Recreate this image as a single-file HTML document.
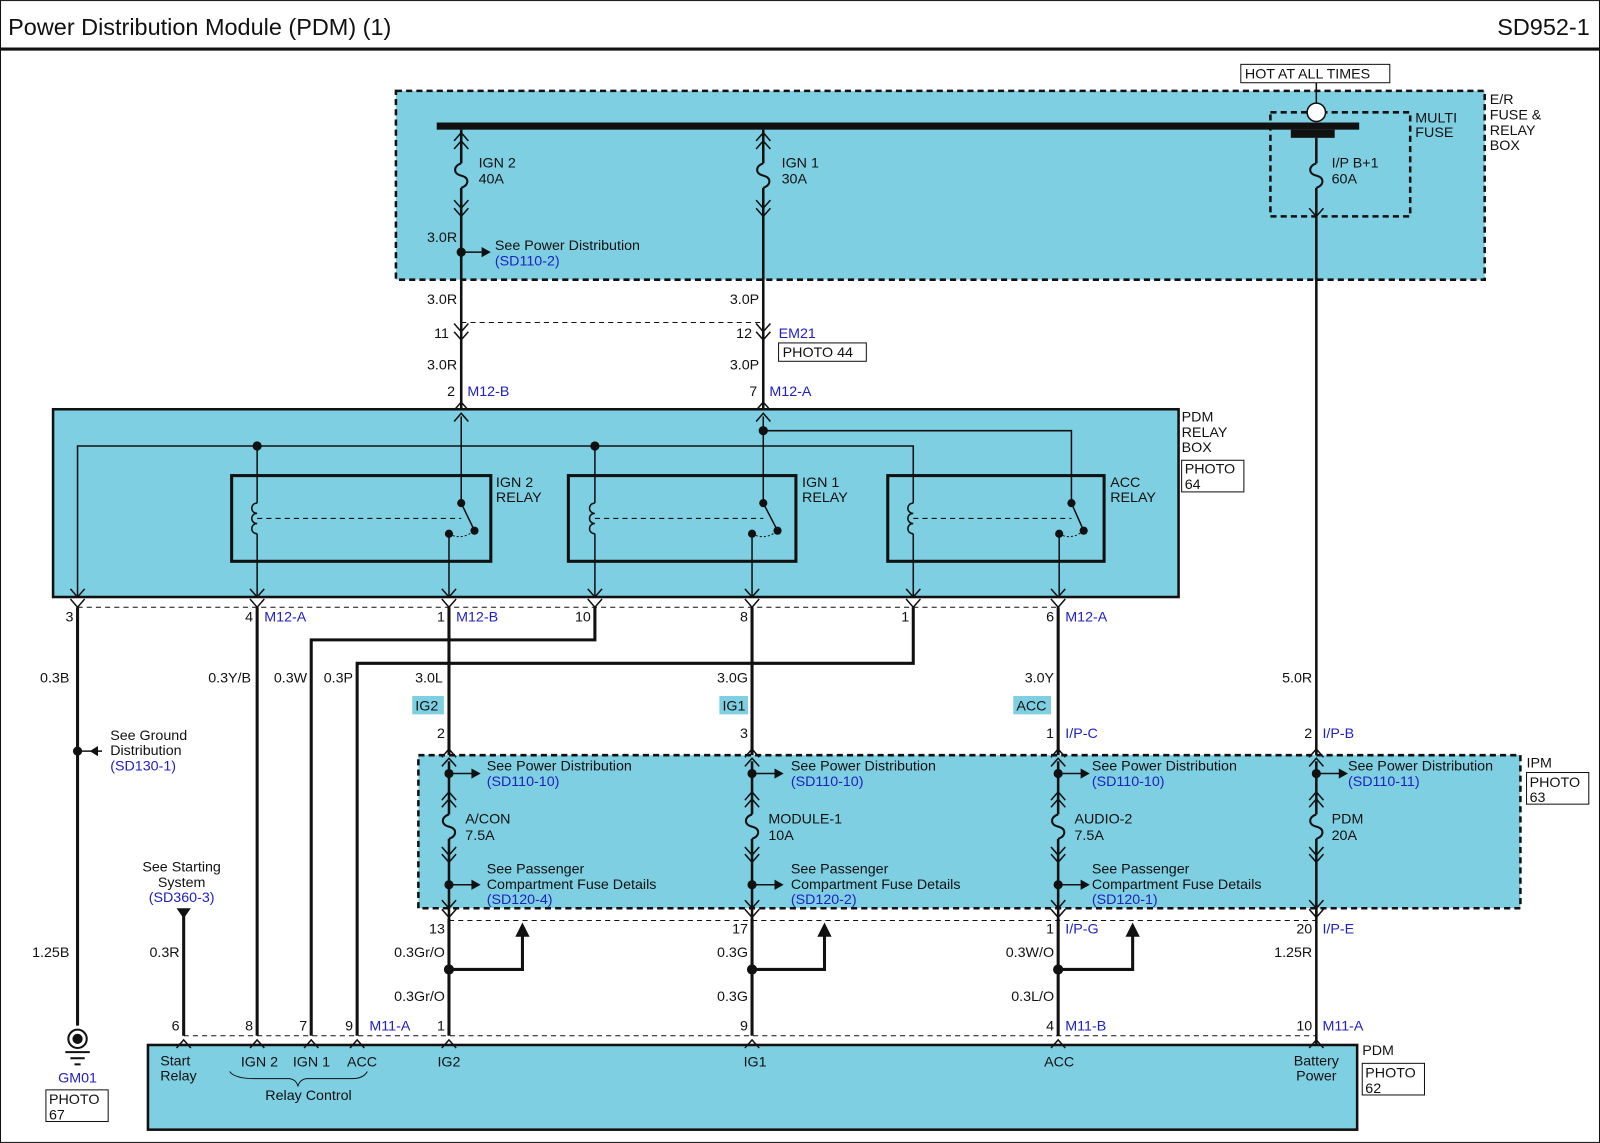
<!DOCTYPE html>
<html><head><meta charset="utf-8"><style>
html,body{margin:0;padding:0;background:#fff}
svg{display:block}
text{font-family:"Liberation Sans",Arial,sans-serif;font-size:14px;fill:#111}
.b{fill:#2020c0}
.t{font-size:23px}
</style></head><body>
<svg width="1600" height="1143" viewBox="0 0 1568 1120" xmlns="http://www.w3.org/2000/svg">
<defs>
<path id="v" d="M-7,-5 L0,3 L7,-5" fill="none" stroke="#111" stroke-width="1.5"/>
<path id="u" d="M-7,5 L0,-3 L7,5" fill="none" stroke="#111" stroke-width="1.5"/>
<path id="fuse" d="M0,0 C-8,3 -8,10 0,12 C8,14 8,21 0,24" fill="none" stroke="#111" stroke-width="2"/>
<path id="coil" d="M0,0 c-7,0 -7,10 0,10 c-7,0 -7,10 0,10 c-7,0 -7,10 0,10" fill="none" stroke="#111" stroke-width="1.5"/>
</defs>
<rect x="0.5" y="0.5" width="1567" height="1119" fill="#fff" stroke="#111"/>
<text x="8" y="34" class="t">Power Distribution Module (PDM) (1)</text>
<text x="1558" y="34" class="t" text-anchor="end">SD952-1</text>
<line x1="0" y1="48" x2="1568" y2="48" stroke="#111" stroke-width="3"/>

<!-- top blue box -->
<rect x="388" y="89" width="1067" height="185" fill="#7ecfe2" stroke="#111" stroke-width="2.5" stroke-dasharray="6,4"/>
<rect x="1245" y="110" width="137" height="102" fill="none" stroke="#111" stroke-width="2.5" stroke-dasharray="6,4"/>
<rect x="428" y="120" width="904" height="7" fill="#111"/>
<rect x="1265" y="127" width="43" height="8" fill="#111"/>
<line x1="1290" y1="81" x2="1290" y2="101" stroke="#111" stroke-width="1.5"/>
<circle cx="1290" cy="110" r="9" fill="#fff" stroke="#111" stroke-width="1.5"/>
<rect x="1216" y="63" width="146" height="18" fill="#fff" stroke="#111"/>
<text x="1220" y="77">HOT AT ALL TIMES</text>
<text x="1460" y="102">E/R</text><text x="1460" y="117">FUSE &amp;</text><text x="1460" y="132">RELAY</text><text x="1460" y="147">BOX</text>
<text x="1387" y="120">MULTI</text><text x="1387" y="134">FUSE</text>

<g stroke="#111" stroke-width="2.5" fill="none">
<line x1="452" y1="127" x2="452" y2="160"/><line x1="452" y1="184" x2="452" y2="400"/>
<line x1="748" y1="127" x2="748" y2="160"/><line x1="748" y1="184" x2="748" y2="400"/>
<line x1="1290" y1="135" x2="1290" y2="160"/><line x1="1290" y1="184" x2="1290" y2="1024"/>
</g>
<use href="#fuse" x="452" y="160"/><use href="#fuse" x="748" y="160"/><use href="#fuse" x="1290" y="160"/>
<use href="#u" x="452" y="133"/><use href="#u" x="452" y="141"/><use href="#v" x="452" y="201"/><use href="#v" x="452" y="209"/>
<use href="#u" x="748" y="133"/><use href="#u" x="748" y="141"/><use href="#v" x="748" y="201"/><use href="#v" x="748" y="209"/>
<use href="#v" x="1290" y="209"/>
<text x="469" y="164">IGN 2</text><text x="469" y="180">40A</text>
<text x="766" y="164">IGN 1</text><text x="766" y="180">30A</text>
<text x="1305" y="164">I/P B+1</text><text x="1305" y="180">60A</text>
<circle cx="452" cy="247" r="4.5" fill="#111"/>
<line x1="452" y1="247" x2="474" y2="247" stroke="#111" stroke-width="1.5"/><path d="M472,242 L481,247 L472,252Z" fill="#111"/>
<text x="485" y="245">See Power Distribution</text><text x="485" y="260" class="b">(SD110-2)</text>
<text x="448" y="237" text-anchor="end">3.0R</text>

<text x="448" y="298" text-anchor="end">3.0R</text><text x="744" y="298" text-anchor="end">3.0P</text>
<line x1="452" y1="316" x2="748" y2="316" stroke="#111" stroke-dasharray="5,4"/>
<use href="#v" x="452" y="322"/><use href="#v" x="452" y="330"/><use href="#v" x="748" y="322"/><use href="#v" x="748" y="330"/>
<text x="440" y="331" text-anchor="end">11</text><text x="737" y="331" text-anchor="end">12</text>
<text x="763" y="331" class="b">EM21</text>
<rect x="763" y="336" width="86" height="18" fill="#fff" stroke="#111"/><text x="767" y="350">PHOTO 44</text>
<text x="448" y="362" text-anchor="end">3.0R</text><text x="744" y="362" text-anchor="end">3.0P</text>
<text x="446" y="388" text-anchor="end">2</text><text x="458" y="388" class="b">M12-B</text>
<text x="742" y="388" text-anchor="end">7</text><text x="754" y="388" class="b">M12-A</text>

<!-- PDM relay box -->
<rect x="52" y="401" width="1103" height="184" fill="#7ecfe2" stroke="#111" stroke-width="2.5"/>
<use href="#u" x="452" y="397"/><use href="#u" x="452" y="408"/><use href="#u" x="748" y="397"/><use href="#u" x="748" y="408"/>
<text x="1158" y="413">PDM</text><text x="1158" y="428">RELAY</text><text x="1158" y="443">BOX</text>
<rect x="1158" y="451" width="61" height="31" fill="#fff" stroke="#111"/><text x="1161" y="464">PHOTO</text><text x="1161" y="479">64</text>
<g stroke="#111" stroke-width="1.5" fill="none">
<polyline points="76,585 76,437 895,437 895,585"/>
<line x1="252" y1="437" x2="252" y2="585"/><line x1="583" y1="437" x2="583" y2="585"/>
<polyline points="748,422 1050,422 1050,493"/>
<line x1="452" y1="408" x2="452" y2="493"/><line x1="748" y1="408" x2="748" y2="493"/>
<line x1="440" y1="523" x2="440" y2="585"/><line x1="737" y1="523" x2="737" y2="585"/><line x1="1038" y1="523" x2="1038" y2="585"/>
</g>
<g fill="#111"><circle cx="252" cy="437" r="4.5"/><circle cx="583" cy="437" r="4.5"/><circle cx="748" cy="422" r="4.5"/></g>
<g stroke="#111" stroke-width="3" fill="#7ecfe2">
<rect x="227" y="466" width="254" height="84"/><rect x="557" y="466" width="223" height="84"/><rect x="870" y="466" width="212" height="84"/>
</g>
<g stroke="#111" stroke-width="1.5">
<line x1="252" y1="466" x2="252" y2="493"/><line x1="252" y1="523" x2="252" y2="550"/>
<line x1="583" y1="466" x2="583" y2="493"/><line x1="583" y1="523" x2="583" y2="550"/>
<line x1="895" y1="466" x2="895" y2="493"/><line x1="895" y1="523" x2="895" y2="550"/>
<line x1="452" y1="466" x2="452" y2="493"/><line x1="748" y1="466" x2="748" y2="493"/><line x1="1050" y1="466" x2="1050" y2="493"/>
<line x1="440" y1="523" x2="440" y2="550"/><line x1="737" y1="523" x2="737" y2="550"/><line x1="1038" y1="523" x2="1038" y2="550"/>
</g>
<text x="486" y="477">IGN 2</text><text x="486" y="492">RELAY</text>
<text x="786" y="477">IGN 1</text><text x="786" y="492">RELAY</text>
<text x="1088" y="477">ACC</text><text x="1088" y="492">RELAY</text>
<!-- relay internals -->
<use href="#coil" x="252" y="493"/><use href="#coil" x="583" y="493"/><use href="#coil" x="895" y="493"/>
<g stroke="#111" stroke-dasharray="5,4">
<line x1="252" y1="508" x2="452" y2="508"/><line x1="583" y1="508" x2="748" y2="508"/><line x1="895" y1="508" x2="1050" y2="508"/>
</g>
<g fill="#111">
<circle cx="452" cy="493" r="4"/><circle cx="440" cy="523" r="4"/><circle cx="465" cy="520" r="4"/>
<circle cx="748" cy="493" r="4"/><circle cx="737" cy="523" r="4"/><circle cx="762" cy="520" r="4"/>
<circle cx="1050" cy="493" r="4"/><circle cx="1038" cy="523" r="4"/><circle cx="1062" cy="520" r="4"/>
</g>
<g stroke="#111" stroke-width="1.5">
<line x1="452" y1="493" x2="465" y2="520"/><line x1="748" y1="493" x2="762" y2="520"/><line x1="1050" y1="493" x2="1062" y2="520"/>
</g>
<g fill="none" stroke="#111" stroke-dasharray="2,2">
<path d="M440,523 Q452,530 465,520"/><path d="M737,523 Q750,530 762,520"/><path d="M1038,523 Q1050,530 1062,520"/>
</g>

<!-- bottom connectors of relay box -->
<line x1="76" y1="595" x2="1037" y2="595" stroke="#111" stroke-dasharray="5,4"/>
<g>
<use href="#v" x="76" y="582"/><use href="#v" x="76" y="592"/>
<use href="#v" x="252" y="582"/><use href="#v" x="252" y="592"/>
<use href="#v" x="440" y="582"/><use href="#v" x="440" y="592"/>
<use href="#v" x="583" y="582"/><use href="#v" x="583" y="592"/>
<use href="#v" x="737" y="582"/><use href="#v" x="737" y="592"/>
<use href="#v" x="895" y="582"/><use href="#v" x="895" y="592"/>
<use href="#v" x="1037" y="582"/><use href="#v" x="1037" y="592"/>
</g>
<text x="72" y="609" text-anchor="end">3</text>
<text x="248" y="609" text-anchor="end">4</text><text x="259" y="609" class="b">M12-A</text>
<text x="436" y="609" text-anchor="end">1</text><text x="447" y="609" class="b">M12-B</text>
<text x="579" y="609" text-anchor="end">10</text>
<text x="733" y="609" text-anchor="end">8</text>
<text x="891" y="609" text-anchor="end">1</text>
<text x="1033" y="609" text-anchor="end">6</text><text x="1044" y="609" class="b">M12-A</text>

<g stroke="#111" stroke-width="3" fill="none">
<line x1="76" y1="595" x2="76" y2="1005"/>
<line x1="252" y1="595" x2="252" y2="1015"/>
<polyline points="583,595 583,627 305,627 305,1015"/>
<polyline points="895,595 895,650 350,650 350,1015"/>
<line x1="440" y1="595" x2="440" y2="740"/>
<line x1="737" y1="595" x2="737" y2="740"/>
<line x1="1037" y1="595" x2="1037" y2="740"/>
<line x1="180" y1="895" x2="180" y2="1015"/>
</g>
<text x="68" y="669" text-anchor="end">0.3B</text>
<text x="246" y="669" text-anchor="end">0.3Y/B</text>
<text x="301" y="669" text-anchor="end">0.3W</text>
<text x="346" y="669" text-anchor="end">0.3P</text>
<text x="434" y="669" text-anchor="end">3.0L</text>
<text x="733" y="669" text-anchor="end">3.0G</text>
<text x="1033" y="669" text-anchor="end">3.0Y</text>
<text x="1286" y="669" text-anchor="end">5.0R</text>
<rect x="404" y="682" width="31" height="18" fill="#7ecfe2"/><text x="407" y="696">IG2</text>
<rect x="705" y="682" width="28" height="18" fill="#7ecfe2"/><text x="708" y="696">IG1</text>
<rect x="993" y="682" width="37" height="18" fill="#7ecfe2"/><text x="996" y="696">ACC</text>

<!-- ground distribution -->
<circle cx="76" cy="736" r="4.5" fill="#111"/>
<line x1="76" y1="736" x2="100" y2="736" stroke="#111" stroke-width="1.5"/><path d="M96,731 L88,736 L96,741Z" fill="#111"/>
<text x="108" y="725">See Ground</text><text x="108" y="740">Distribution</text><text x="108" y="755" class="b">(SD130-1)</text>
<text x="178" y="854" text-anchor="middle">See Starting</text><text x="178" y="869" text-anchor="middle">System</text><text x="178" y="884" text-anchor="middle" class="b">(SD360-3)</text>
<path d="M173,890 L187,890 L180,900Z" fill="#111"/>

<!-- IPM -->
<text x="436" y="723" text-anchor="end">2</text>
<text x="733" y="723" text-anchor="end">3</text>
<text x="1033" y="723" text-anchor="end">1</text><text x="1044" y="723" class="b">I/P-C</text>
<text x="1286" y="723" text-anchor="end">2</text><text x="1296" y="723" class="b">I/P-B</text>
<rect x="410" y="740" width="1080" height="150" fill="#7ecfe2" stroke="#111" stroke-width="2.5" stroke-dasharray="6,4"/>
<text x="1496" y="752">IPM</text>
<rect x="1496" y="757" width="61" height="31" fill="#fff" stroke="#111"/><text x="1499" y="771">PHOTO</text><text x="1499" y="786">63</text>
<g id="ipm">
<use href="#u" x="440" y="737"/><use href="#u" x="440" y="746"/>
<line x1="440" y1="746" x2="440" y2="798" stroke="#111" stroke-width="2.5"/>
<use href="#fuse" x="440" y="798"/>
<line x1="440" y1="822" x2="440" y2="900" stroke="#111" stroke-width="2.5"/>
<use href="#u" x="440" y="786"/><use href="#u" x="440" y="779"/>
<use href="#v" x="440" y="835"/><use href="#v" x="440" y="842"/>
<use href="#v" x="440" y="887"/><use href="#v" x="440" y="896"/>
<circle cx="440" cy="758" r="4.5" fill="#111"/><line x1="440" y1="758" x2="464" y2="758" stroke="#111" stroke-width="1.5"/><path d="M462,753 L471,758 L462,763Z" fill="#111"/>
</g>
<use href="#ipm" x="297"/><use href="#ipm" x="597"/><use href="#ipm" x="850"/>
<g id="low">
<circle cx="440" cy="867" r="4.5" fill="#111"/><line x1="440" y1="867" x2="464" y2="867" stroke="#111" stroke-width="1.5"/><path d="M462,862 L471,867 L462,872Z" fill="#111"/>
</g>
<use href="#low" x="297"/><use href="#low" x="597"/>
<text x="477" y="755">See Power Distribution</text><text x="477" y="770" class="b">(SD110-10)</text>
<text x="775" y="755">See Power Distribution</text><text x="775" y="770" class="b">(SD110-10)</text>
<text x="1070" y="755">See Power Distribution</text><text x="1070" y="770" class="b">(SD110-10)</text>
<text x="1321" y="755">See Power Distribution</text><text x="1321" y="770" class="b">(SD110-11)</text>
<text x="456" y="807">A/CON</text><text x="456" y="823">7.5A</text>
<text x="753" y="807">MODULE-1</text><text x="753" y="823">10A</text>
<text x="1053" y="807">AUDIO-2</text><text x="1053" y="823">7.5A</text>
<text x="1305" y="807">PDM</text><text x="1305" y="823">20A</text>
<g>
<text x="477" y="856">See Passenger</text><text x="477" y="871">Compartment Fuse Details</text><text x="477" y="886" class="b">(SD120-4)</text>
<text x="775" y="856">See Passenger</text><text x="775" y="871">Compartment Fuse Details</text><text x="775" y="886" class="b">(SD120-2)</text>
<text x="1070" y="856">See Passenger</text><text x="1070" y="871">Compartment Fuse Details</text><text x="1070" y="886" class="b">(SD120-1)</text>
</g>
<line x1="440" y1="902" x2="1290" y2="902" stroke="#111" stroke-dasharray="5,4"/>
<text x="436" y="915" text-anchor="end">13</text>
<text x="733" y="915" text-anchor="end">17</text>
<text x="1033" y="915" text-anchor="end">1</text><text x="1044" y="915" class="b">I/P-G</text>
<text x="1286" y="915" text-anchor="end">20</text><text x="1296" y="915" class="b">I/P-E</text>

<g stroke="#111" stroke-width="3" fill="none">
<line x1="440" y1="900" x2="440" y2="1015"/><line x1="737" y1="900" x2="737" y2="1015"/><line x1="1037" y1="900" x2="1037" y2="1015"/>
<polyline points="440,950 512,950 512,915"/><polyline points="737,950 808,950 808,915"/><polyline points="1037,950 1110,950 1110,915"/>
</g>
<g fill="#111">
<circle cx="440" cy="950" r="5"/><circle cx="737" cy="950" r="5"/><circle cx="1037" cy="950" r="5"/>
<path d="M505,918 L512,904 L519,918Z"/><path d="M801,918 L808,904 L815,918Z"/><path d="M1103,918 L1110,904 L1117,918Z"/>
</g>
<text x="436" y="938" text-anchor="end">0.3Gr/O</text><text x="436" y="981" text-anchor="end">0.3Gr/O</text>
<text x="733" y="938" text-anchor="end">0.3G</text><text x="733" y="981" text-anchor="end">0.3G</text>
<text x="1033" y="938" text-anchor="end">0.3W/O</text><text x="1033" y="981" text-anchor="end">0.3L/O</text>
<text x="1286" y="938" text-anchor="end">1.25R</text>
<text x="68" y="938" text-anchor="end">1.25B</text>
<text x="176" y="938" text-anchor="end">0.3R</text>

<!-- ground -->
<circle cx="76" cy="1018" r="9" fill="#fff" stroke="#111" stroke-width="2"/><circle cx="76" cy="1018" r="5" fill="#111"/>
<line x1="64" y1="1031" x2="88" y2="1031" stroke="#111" stroke-width="2"/><line x1="69" y1="1037" x2="83" y2="1037" stroke="#111" stroke-width="2"/><line x1="73" y1="1043" x2="79" y2="1043" stroke="#111" stroke-width="2"/>
<text x="76" y="1061" text-anchor="middle" class="b">GM01</text>
<rect x="45" y="1068" width="61" height="31" fill="#fff" stroke="#111"/><text x="48" y="1082">PHOTO</text><text x="48" y="1097">67</text>

<!-- PDM -->
<line x1="180" y1="1015" x2="1290" y2="1015" stroke="#111" stroke-dasharray="5,4"/>
<text x="176" y="1010" text-anchor="end">6</text><text x="248" y="1010" text-anchor="end">8</text><text x="301" y="1010" text-anchor="end">7</text>
<text x="346" y="1010" text-anchor="end">9</text><text x="362" y="1010" class="b">M11-A</text>
<text x="436" y="1010" text-anchor="end">1</text><text x="733" y="1010" text-anchor="end">9</text>
<text x="1033" y="1010" text-anchor="end">4</text><text x="1044" y="1010" class="b">M11-B</text>
<text x="1286" y="1010" text-anchor="end">10</text><text x="1296" y="1010" class="b">M11-A</text>
<rect x="145" y="1024" width="1185" height="83" fill="#7ecfe2" stroke="#111" stroke-width="2.5"/>
<g><use href="#u" x="180" y="1022"/><use href="#u" x="252" y="1022"/><use href="#u" x="305" y="1022"/><use href="#u" x="350" y="1022"/><use href="#u" x="440" y="1022"/><use href="#u" x="737" y="1022"/><use href="#u" x="1037" y="1022"/><use href="#u" x="1290" y="1022"/></g>
<text x="157" y="1044">Start</text><text x="157" y="1059">Relay</text>
<text x="236" y="1045">IGN 2</text><text x="287" y="1045">IGN 1</text><text x="340" y="1045">ACC</text>
<path d="M225,1050 Q230,1057 250,1057 L284,1057 Q290,1058 292,1064 Q294,1058 300,1057 L345,1057 Q356,1057 360,1050" fill="none" stroke="#111"/>
<text x="260" y="1078">Relay Control</text>
<text x="440" y="1045" text-anchor="middle">IG2</text>
<text x="740" y="1045" text-anchor="middle">IG1</text>
<text x="1038" y="1045" text-anchor="middle">ACC</text>
<text x="1290" y="1044" text-anchor="middle">Battery</text><text x="1290" y="1059" text-anchor="middle">Power</text>
<text x="1335" y="1034">PDM</text>
<rect x="1335" y="1042" width="61" height="31" fill="#fff" stroke="#111"/><text x="1338" y="1056">PHOTO</text><text x="1338" y="1071">62</text>
</svg>
</body></html>
